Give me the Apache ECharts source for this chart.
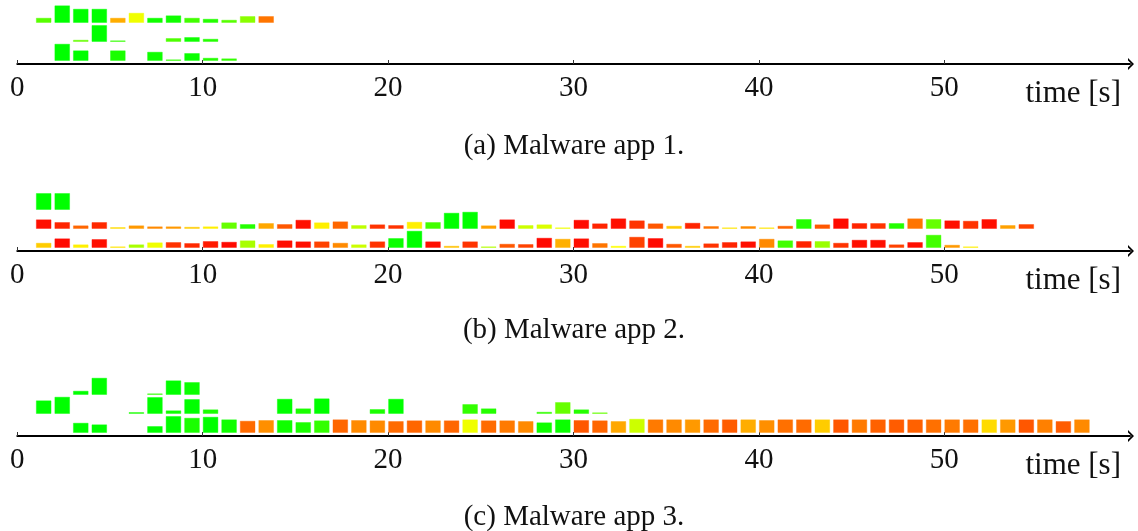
<!DOCTYPE html>
<html><head><meta charset="utf-8">
<script src="https://cdn.jsdelivr.net/npm/echarts@6/dist/echarts.min.js"></script>
<style>html,body{margin:0;padding:0;background:#fff}#c{width:1138px;height:531px}</style>
</head><body><div id="c"></div>
<script>
// ---------- data ----------
const tickValues = [0, 10, 20, 30, 40, 50];
const axisTitle = 'time [s]';
const captions = ['(a) Malware app 1.', '(b) Malware app 2.', '(c) Malware app 3.'];
// each bar: [second, value, level]  (level: 0 = green, 0.5 = yellow, 1 = red)
const app1Top = [[1,4.3,0.17],[2,16.7,0],[3,13.3,0],[4,13.3,0],[5,4.3,0.66],[6,9.3,0.47],[7,4.3,0.03],[8,6.7,0.03],[9,4.3,0.13],[10,3.3,0.07],[11,2.3,0.17],[12,6,0.27],[13,6,0.77]];
const app1Mid = [[3,1.3,0.2],[4,16,0],[5,0.7,0.1],[8,3,0.15],[9,4,0.03],[10,2.3,0.07]];
const app1Bot = [[2,16.3,0],[3,9.7,0],[5,9.7,0.05],[7,8.3,0.03],[8,0.7,0.1],[9,7,0.02],[10,2.3,0.07],[11,1.7,0.1]];

const app2Top = [[1,16,0],[2,16,0]];
const app2Mid = [[1,8.7,0.97],[2,6,0.93],[3,2.7,0.8],[4,6,0.92],[5,1,0.57],[6,2.7,0.7],[7,1.7,0.73],[8,1.7,0.7],[9,1.3,0.6],[10,1.7,0.53],[11,5.7,0.2],[12,4,0.07],[13,5,0.67],[14,4,0.83],[15,8.3,0.97],[16,5.7,0.53],[17,6.7,0.8],[18,3,0.37],[19,3.7,0.9],[20,3,0.9],[21,6.3,0.53],[22,6,0.13],[23,15.3,0],[24,16.3,0],[25,2.7,0.685],[26,8.7,0.98],[27,3,0.4],[28,3.7,0.43],[29,0.7,0.47],[30,8.3,0.98],[31,4.7,0.93],[32,9.7,0.97],[33,7.7,0.9],[34,4.7,0.83],[35,2.3,0.6],[36,5.3,0.93],[37,2,0.77],[38,0.7,0.55],[39,2,0.73],[40,0.7,0.55],[41,2.3,0.8],[42,9,0.07],[43,3.7,0.83],[44,9.7,0.98],[45,5,0.93],[46,5,0.9],[47,5,0.07],[48,9.7,0.77],[49,9,0.2],[50,7.7,0.97],[51,7.3,0.9],[52,9,0.97],[53,3,0.685],[54,4,0.87]];
const app2Bot = [[1,4.3,0.6],[2,8.7,0.98],[3,2.7,0.53],[4,8,0.97],[5,0.7,0.55],[6,2.7,0.33],[7,4.7,0.47],[8,5,0.9],[9,4,0.92],[10,6,0.95],[11,5.3,0.98],[12,6.7,0.33],[13,3,0.53],[14,6.7,0.97],[15,5.7,0.97],[16,5.7,0.87],[17,4.3,0.73],[18,2.7,0.4],[19,5.7,0.9],[20,9,0.02],[21,16.3,0],[22,5.7,0.97],[23,1.3,0.62],[24,5.7,0.9],[25,0.7,0.35],[26,3.3,0.83],[27,3,0.87],[28,9.3,0.98],[29,8.3,0.655],[30,8.7,0.97],[31,4,0.77],[32,1.3,0.5],[33,10.3,0.87],[34,9,0.98],[35,3.3,0.83],[36,1.3,0.6],[37,3.7,0.9],[38,5,0.93],[39,5.7,0.97],[40,8.3,0.73],[41,6.7,0.13],[42,6,0.93],[43,6,0.3],[44,4.3,0.9],[45,7.3,0.97],[46,7.3,0.97],[47,2.7,0.87],[48,5,0.97],[49,12.3,0.13],[50,2.3,0.7],[51,0.7,0.53]];

const app3Top = [[3,3.3,0],[4,16.3,0],[7,0.7,0.1],[8,13.7,0],[9,12,0.02]];
const app3Mid = [[1,12.7,0],[2,16.3,0],[6,1,0.05],[7,16,0],[8,2.7,0.03],[9,14,0],[10,3.7,0.05],[14,14.3,0],[15,4.7,0.05],[16,14.7,0],[19,4,0.05],[20,14.3,0],[24,9,0.1],[25,4.7,0.07],[28,1.3,0.1],[29,11,0.2],[30,3.7,0.07],[31,0.7,0.2]];
const app3Bot = [[3,9.3,0],[4,7.7,0],[7,6,0],[8,16,0],[9,14.3,0.05],[10,15.3,0],[11,12.7,0.03],[12,11.3,0.79],[13,12,0.72],[14,12,0.03],[15,10,0.05],[16,11.7,0.1],[17,12.7,0.8],[18,12,0.73],[19,11.7,0.73],[20,11,0.79],[21,11.7,0.8],[22,11.7,0.73],[23,11.7,0.8],[24,12.7,0.47],[25,11.7,0.79],[26,11.7,0.76],[27,11,0.73],[28,9.7,0.03],[29,12.7,0.02],[30,12,0.83],[31,11.7,0.8],[32,11,0.67],[33,13.3,0.4],[34,12.7,0.76],[35,12.7,0.73],[36,12.7,0.7],[37,12.7,0.79],[38,12.7,0.82],[39,12.7,0.66],[40,12,0.72],[41,12.7,0.78],[42,12.7,0.79],[43,12.7,0.6],[44,12.7,0.83],[45,12.7,0.76],[46,12.7,0.81],[47,12.7,0.82],[48,12.7,0.81],[49,12.7,0.78],[50,12.7,0.76],[51,12.7,0.78],[52,12.7,0.57],[53,12.7,0.7],[54,12.7,0.83],[55,12.7,0.75],[56,11,0.82],[57,12.7,0.73]];

// ---------- layout ----------
const ROW_BASE = [3.5, 22.5, 41.5];
const AXIS_Y = [64, 251, 436];
const CAPTION_Y = [146, 330, 517];
const GRID_LEFT = 17.3, GRID_RIGHT = 8;
const PX_PER_S = 18.54;
const XMAX = (1138 - GRID_LEFT - GRID_RIGHT) / PX_PER_S;
const SERIF = '"Liberation Serif", "DejaVu Serif", serif';
// open chevron (points "up" before ECharts rotates it along the axis); bbox 12 x 6
const ARROW = 'path://M0,6 L6,0 L12,6 L9.6,6 L6,2.4 L2.4,6 Z';

const panels = [[app1Bot, app1Mid, app1Top], [app2Bot, app2Mid, app2Top], [app3Bot, app3Mid, app3Top]];

function renderBar(params, api) {
  const t = api.value(0), h = api.value(1), row = api.value(3);
  const b = ROW_BASE[row];
  const p0 = api.coord([t + 0.027, b]);
  const p1 = api.coord([t + 0.82, b + h]);
  const color = api.visual('color');
  return {
    type: 'rect',
    shape: { x: p0[0], y: p1[1], width: p1[0] - p0[0], height: p0[1] - p1[1] },
    style: { fill: color, stroke: color, lineWidth: 1, strokeOpacity: 0.4 }
  };
}

const grids = [], xAxes = [], yAxes = [], series = [];
panels.forEach((rows, i) => {
  grids.push({ left: GRID_LEFT, right: GRID_RIGHT, top: AXIS_Y[i] - 60, height: 60, outerBoundsMode: 'none', containLabel: false });
  xAxes.push({
    gridIndex: i, type: 'value', min: 0, max: XMAX,
    axisLine: { show: true, onZero: false, symbol: ['none', ARROW], symbolSize: [12, 6], symbolOffset: [0, 1], lineStyle: { color: '#000', width: 2 } },
    axisTick: { show: true, inside: true, length: 4, customValues: tickValues, lineStyle: { color: '#333', width: 1 } },
    axisLabel: { show: true, customValues: tickValues, margin: 10, fontFamily: SERIF, fontSize: 29, color: '#111' },
    splitLine: { show: false },
    name: axisTitle, nameLocation: 'end', nameGap: -9,
    nameTextStyle: { fontFamily: SERIF, fontSize: 31, color: '#111', align: 'right', verticalAlign: 'top', padding: [14, 0, 0, 0] }
  });
  yAxes.push({ gridIndex: i, type: 'value', min: 0, max: 60, show: false });
  const data = [];
  rows.forEach((r, ri) => r.forEach(d => data.push([d[0], d[1], d[2], ri])));
  series.push({
    type: 'custom', xAxisIndex: i, yAxisIndex: i, renderItem: renderBar,
    encode: { x: 0, y: 1 }, data: data, silent: true
  });
});

const chart = echarts.init(document.getElementById('c'), null, { renderer: 'canvas' });
chart.setOption({
  backgroundColor: '#fff',
  animation: false,
  grid: grids, xAxis: xAxes, yAxis: yAxes, series: series,
  visualMap: {
    show: false, type: 'continuous', dimension: 2, min: 0, max: 1,
    seriesIndex: [0, 1, 2],
    inRange: { color: ['#00ff00', '#ffff00', '#ff0000'] }
  },
  graphic: captions.map((c, i) => ({
    type: 'text', x: 574, y: CAPTION_Y[i], silent: true,
    style: { text: c, font: '29px ' + SERIF, fill: '#111', textAlign: 'center', textVerticalAlign: 'middle', align: 'center', verticalAlign: 'middle' }
  }))
});
</script></body></html>
